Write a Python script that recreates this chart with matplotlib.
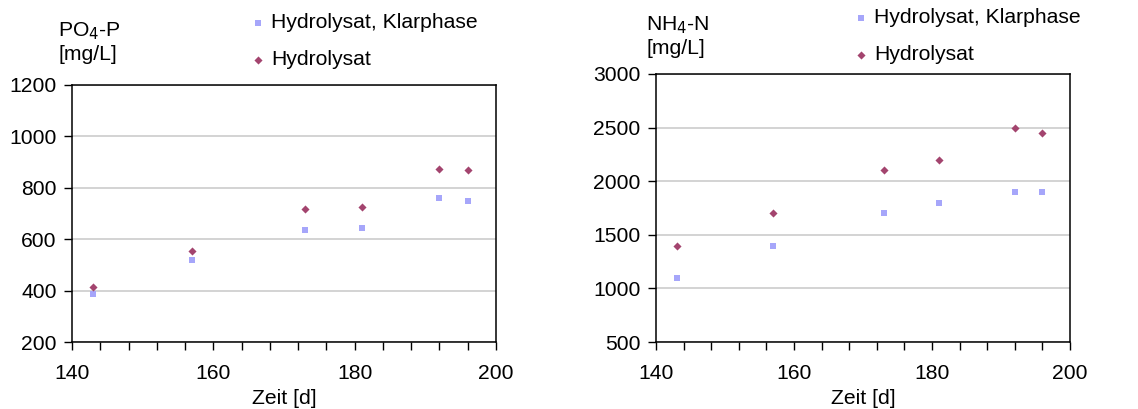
import matplotlib
matplotlib.use("Agg")
import matplotlib.pyplot as plt
from matplotlib.ticker import MultipleLocator

plt.rcParams['font.family'] = ['Liberation Sans', 'DejaVu Sans']

zeit = [143, 157, 173, 181, 192, 196]
po4_klar = [388, 520, 637, 645, 762, 750]
po4_hydro = [415, 555, 718, 725, 872, 870]
nh4_klar = [1100, 1400, 1700, 1800, 1900, 1900]
nh4_hydro = [1400, 1700, 2100, 2200, 2500, 2450]

label_klar = "Hydrolysat, Klarphase"
label_hydro = "Hydrolysat"
color_klar = "#a6a6fa"
color_hydro = "#a3446e"

W, H = 1138, 409
FS = 15.2
fig = plt.figure(figsize=(W / 100, H / 100), dpi=100)

def box(x0, y0, x1, y1):
    return [x0 / W, 1 - y1 / H, (x1 - x0) / W, (y1 - y0) / H]

def style_axes(ax, ylim, ystep):
    ax.set_xlim(140, 200)
    ax.set_ylim(*ylim)
    ax.xaxis.set_major_locator(MultipleLocator(20))
    ax.xaxis.set_minor_locator(MultipleLocator(4))
    ax.yaxis.set_major_locator(MultipleLocator(ystep))
    ax.tick_params(axis='both', which='both', direction='out', labelsize=FS,
                   color='black', width=1)
    ax.tick_params(axis='x', which='major', length=6, pad=10)
    ax.tick_params(axis='x', which='minor', length=6)
    ax.tick_params(axis='y', which='major', length=6, pad=5)
    ax.grid(axis='y', color='#d0d0d0', linewidth=1.3)
    ax.set_axisbelow(True)
    for sp in ax.spines.values():
        sp.set_linewidth(1.1)
        sp.set_color('black')

def draw(ax, klar, hydro):
    ax.scatter(zeit, klar, marker='s', s=22, color=color_klar, linewidths=0,
               label=label_klar, zorder=3)
    ax.scatter(zeit, hydro, marker='D', s=17, color=color_hydro, linewidths=0,
               label=label_hydro, zorder=3)

def add_legend(ax, x, y):
    ax.legend(loc='upper left', bbox_to_anchor=(x / W, 1 - y / H),
              bbox_transform=fig.transFigure, frameon=False, fontsize=FS,
              handletextpad=0.0, labelspacing=0.85, handlelength=1.2,
              borderaxespad=0)

# Phosphate panel
ax1 = fig.add_axes(box(72, 85, 496, 342))
draw(ax1, po4_klar, po4_hydro)
style_axes(ax1, (200, 1200), 200)
ax1.set_xlabel("Zeit [d]", fontsize=FS, labelpad=4)
fig.text(58 / W, 1 - 64 / H, "PO$_4$-P\n[mg/L]", fontsize=FS, ha='left', va='bottom',
         linespacing=1.2)
add_legend(ax1, 237, 5)

# Ammonium panel
ax2 = fig.add_axes(box(656, 74, 1070, 342))
draw(ax2, nh4_klar, nh4_hydro)
style_axes(ax2, (500, 3000), 500)
ax2.set_xlabel("Zeit [d]", fontsize=FS, labelpad=4)
fig.text(646 / W, 1 - 58 / H, "NH$_4$-N\n[mg/L]", fontsize=FS, ha='left', va='bottom',
         linespacing=1.2)
add_legend(ax2, 840, 0)

fig.savefig("out.png", dpi=100)
